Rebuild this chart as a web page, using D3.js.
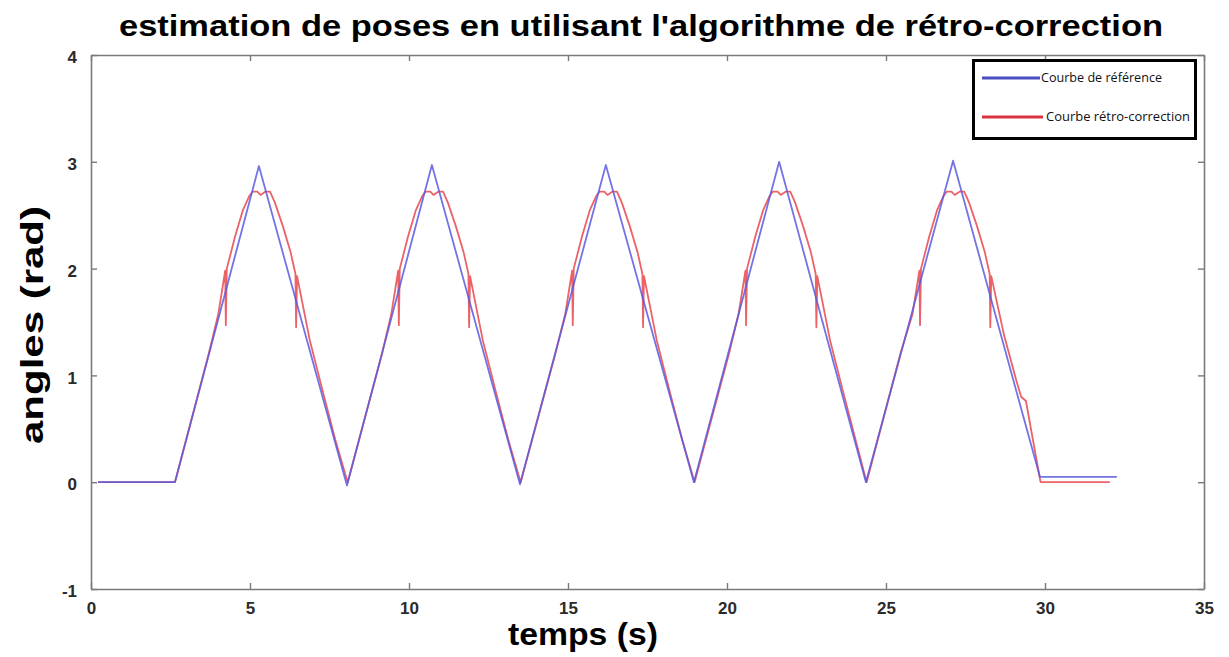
<!DOCTYPE html>
<html>
<head>
<meta charset="utf-8">
<script src="https://cdn.jsdelivr.net/npm/d3@7"></script>
<style>
  body { margin: 0; background: #fff; }
  svg { display: block; }
</style>
</head>
<body>
<svg id="chart" width="1229" height="657"></svg>
<script>
// --- data ------------------------------------------------
// reference curve: [time (s), angle (rad)]
const reference = [
  [0.22, 0], [2.64, 0], [5.28, 2.96], [8.05, -0.03], [10.72, 2.97],
  [13.49, -0.02], [16.19, 2.97], [18.96, 0.0], [21.64, 3.0], [24.37, 0.0],
  [27.11, 3.01], [29.84, 0.05], [32.26, 0.05]
];

// retro-correction curve, the small spikes at ~2 rad included
const retro = [
  [0.22, 0], [2.64, 0],
  [3.7, 1.2], [4.0, 1.57], [4.22, 1.98], [4.24, 1.47], [4.27, 2.0], [4.53, 2.3],
  [4.78, 2.55], [4.98, 2.68], [5.08, 2.72], [5.23, 2.72], [5.33, 2.69], [5.48, 2.72],
  [5.63, 2.72], [5.78, 2.62], [6.03, 2.4], [6.28, 2.15], [6.43, 1.95], [6.45, 1.45],
  [6.48, 1.93], [6.88, 1.33], [7.28, 0.86], [7.68, 0.4], [8.07, 0.0],
  [9.15, 1.2], [9.44, 1.57], [9.66, 1.98], [9.68, 1.47], [9.71, 2.0], [9.97, 2.3],
  [10.22, 2.55], [10.42, 2.68], [10.52, 2.72], [10.67, 2.72], [10.77, 2.69], [10.92, 2.72],
  [11.07, 2.72], [11.22, 2.62], [11.47, 2.4], [11.72, 2.15], [11.87, 1.95], [11.89, 1.45],
  [11.92, 1.93], [12.32, 1.33], [12.72, 0.86], [13.12, 0.4], [13.51, 0.0],
  [14.6, 1.2], [14.91, 1.57], [15.13, 1.98], [15.15, 1.47], [15.18, 2.0], [15.44, 2.3],
  [15.69, 2.55], [15.89, 2.68], [15.99, 2.72], [16.14, 2.72], [16.24, 2.69], [16.39, 2.72],
  [16.54, 2.72], [16.69, 2.62], [16.94, 2.4], [17.19, 2.15], [17.34, 1.95], [17.36, 1.45],
  [17.39, 1.93], [17.79, 1.33], [18.19, 0.86], [18.59, 0.4], [18.98, 0.0],
  [20.06, 1.2], [20.36, 1.57], [20.58, 1.98], [20.6, 1.47], [20.63, 2.0], [20.89, 2.3],
  [21.14, 2.55], [21.34, 2.68], [21.44, 2.72], [21.59, 2.72], [21.69, 2.69], [21.84, 2.72],
  [21.99, 2.72], [22.14, 2.62], [22.39, 2.4], [22.64, 2.15], [22.79, 1.95], [22.81, 1.45],
  [22.84, 1.93], [23.24, 1.33], [23.64, 0.86], [24.04, 0.4], [24.39, 0.0],
  [25.45, 1.2], [25.83, 1.57], [26.05, 1.98], [26.07, 1.47], [26.1, 2.0], [26.36, 2.3],
  [26.61, 2.55], [26.81, 2.68], [26.91, 2.72], [27.06, 2.72], [27.16, 2.69], [27.31, 2.72],
  [27.46, 2.72], [27.61, 2.62], [27.86, 2.4], [28.11, 2.15], [28.26, 1.95], [28.28, 1.45],
  [28.31, 1.93], [28.71, 1.38], [29.1, 0.95], [29.25, 0.8], [29.4, 0.76], [29.86, 0.0],
  [32.04, 0.0]
];

const xTicks = [0, 5, 10, 15, 20, 25, 30, 35];
const yTicks = [-1, 0, 1, 2, 3, 4];

const titleText = "estimation de poses en utilisant l'algorithme de rétro-correction";
const xLabel = "temps (s)";
const yLabel = "angles (rad)";
const legendNames = ["Courbe de référence", "Courbe rétro-correction"];

// --- layout ----------------------------------------------
const svg = d3.select("#chart");
const box = {left: 91, right: 1204, top: 55, bottom: 589};

const x = d3.scaleLinear().domain([0, 35]).range([box.left, box.right]);
const y = d3.scaleLinear().domain([-1, 4]).range([box.bottom, box.top]);

const frameColor = "#7a7a7a";
const tickFont = "'Liberation Sans', Arial, sans-serif";
// plain hyphen for negatives, as in the picture
const fmt = d => String(d);

// title
svg.append("text")
  .attr("x", 641).attr("y", 36)
  .attr("text-anchor", "middle")
  .attr("textLength", 1044)
  .attr("lengthAdjust", "spacingAndGlyphs")
  .style("font-family", tickFont)
  .style("font-weight", "bold")
  .style("font-size", "30px")
  .attr("fill", "#000")
  .text(titleText);

// axes (ticks point inward, mirrored on the other side, like the box plot)
const gx = svg.append("g").attr("transform", `translate(0,${box.bottom})`)
  .call(d3.axisBottom(x).tickValues(xTicks).tickFormat(fmt).tickSizeInner(-6).tickSizeOuter(0).tickPadding(13));
const gxTop = svg.append("g").attr("transform", `translate(0,${box.top})`)
  .call(d3.axisTop(x).tickValues(xTicks).tickSizeInner(-6).tickSizeOuter(0).tickFormat(""));
const gy = svg.append("g").attr("transform", `translate(${box.left},0)`)
  .call(d3.axisLeft(y).tickValues(yTicks).tickFormat(fmt).tickSizeInner(-6).tickSizeOuter(0).tickPadding(14));
const gyRight = svg.append("g").attr("transform", `translate(${box.right},0)`)
  .call(d3.axisRight(y).tickValues(yTicks).tickSizeInner(-6).tickSizeOuter(0).tickFormat(""));

[gx, gxTop, gy, gyRight].forEach(g => {
  g.select(".domain").attr("stroke", frameColor).attr("stroke-width", 1.6);
  g.selectAll(".tick line").attr("stroke", frameColor).attr("stroke-width", 1.4);
  g.selectAll(".tick text")
    .attr("fill", "#2a2a2a")
    .style("font-family", tickFont)
    .style("font-weight", "bold")
    .style("font-size", "17px");
});
gy.selectAll(".tick text").attr("dy", "0.45em");

// axis labels
svg.append("text")
  .attr("x", 583).attr("y", 645)
  .attr("text-anchor", "middle")
  .attr("textLength", 150)
  .attr("lengthAdjust", "spacingAndGlyphs")
  .style("font-family", tickFont)
  .style("font-weight", "bold")
  .style("font-size", "31px")
  .text(xLabel);

svg.append("text")
  .attr("transform", "translate(43,325) rotate(-90)")
  .attr("text-anchor", "middle")
  .attr("textLength", 238)
  .attr("lengthAdjust", "spacingAndGlyphs")
  .style("font-family", tickFont)
  .style("font-weight", "bold")
  .style("font-size", "31px")
  .text(yLabel);

// curves
const line = d3.line().x(d => x(d[0])).y(d => y(d[1]));

svg.append("path")
  .datum(retro)
  .attr("fill", "none")
  .attr("stroke", "#e8474c")
  .attr("stroke-opacity", 0.85)
  .attr("stroke-width", 1.8)
  .attr("stroke-linejoin", "round")
  .attr("d", line);

svg.append("path")
  .datum(reference)
  .attr("fill", "none")
  .attr("stroke", "#5b5be0")
  .attr("stroke-opacity", 0.85)
  .attr("stroke-width", 1.8)
  .attr("stroke-linejoin", "round")
  .attr("d", line);

// legend (a pasted box with a thick black border)
const legend = svg.append("g");
legend.append("rect")
  .attr("x", 973.5).attr("y", 60.5)
  .attr("width", 222).attr("height", 78)
  .attr("fill", "#fff")
  .attr("stroke", "#000")
  .attr("stroke-width", 3);

const legendItems = [
  {name: legendNames[0], color: "#4a4fc4", x1: 982, x2: 1040, y: 78, tx: 1041, w: 121},
  {name: legendNames[1], color: "#d9333f", x1: 982, x2: 1043, y: 117, tx: 1046, w: 144}
];
legendItems.forEach(d => {
  legend.append("line")
    .attr("x1", d.x1).attr("x2", d.x2)
    .attr("y1", d.y).attr("y2", d.y)
    .attr("stroke", d.color)
    .attr("stroke-width", 3);
  legend.append("text")
    .attr("x", d.tx).attr("y", d.y + 4)
    .attr("textLength", d.w)
    .attr("lengthAdjust", "spacingAndGlyphs")
    .style("font-family", "'Open Sans', 'Noto Sans', sans-serif")
    .style("font-size", "12.5px")
    .attr("fill", "#111")
    .text(d.name);
});
</script>
</body>
</html>
